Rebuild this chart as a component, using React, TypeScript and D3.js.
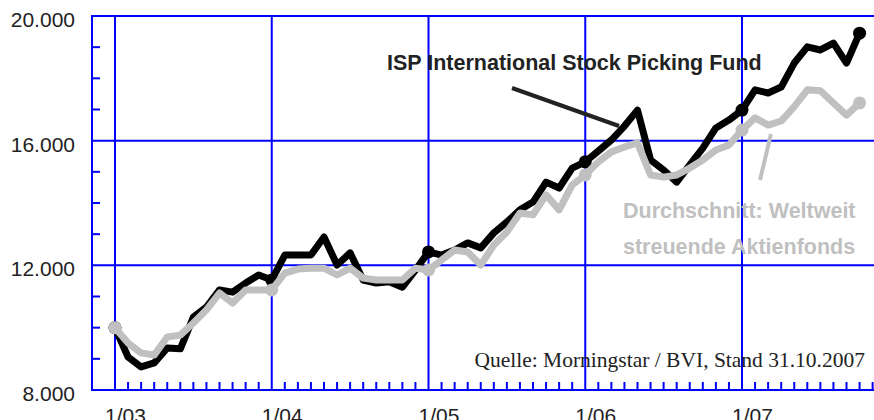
import React, { useEffect, useRef } from 'react';
import * as d3 from 'd3';

// monthly values, Jan 2003 .. Oct 2007 (index 0 = 1/03)
const fundValues: number[] = [
    10000, 9060, 8740, 8870, 9350, 9320, 10340, 10660, 11210, 11140, 11430, 11690,
    11530, 12330, 12330, 12330, 12910, 12010, 12400, 11530, 11430, 11470, 11300, 11850,
    12430, 12330, 12490, 12720, 12560, 13040, 13390, 13780, 14030, 14670, 14480, 15120,
    15320, 15670, 16020, 16470, 16980, 15380, 15060, 14670, 15220, 15760, 16410, 16660,
    16980, 17630, 17530, 17720, 18490, 19010, 18910, 19130, 18490, 19450,
];
const avgValues: number[] = [
    10000, 9510, 9190, 9120, 9700, 9760, 10150, 10570, 11110, 10790, 11210, 11210,
    11210, 11750, 11880, 11910, 11910, 11690, 11910, 11590, 11530, 11530, 11530, 11910,
    11850, 12170, 12490, 12430, 12010, 12650, 13070, 13680, 13620, 14260, 13780, 14580,
    14900, 15320, 15640, 15800, 15930, 14900, 14830, 14900, 15120, 15380, 15700, 15860,
    16340, 16730, 16500, 16630, 17090, 17630, 17600, 17210, 16820, 17210,
];
const yearLabels: string[] = ['1/03', '1/04', '1/05', '1/06', '1/07'];
const yMajor: number[] = [8000, 12000, 16000, 20000];
const fundLabel = 'ISP International Stock Picking Fund';
const avgLabel: string[] = ['Durchschnitt: Weltweit', 'streuende Aktienfonds'];
const sourceLabel = 'Quelle: Morningstar / BVI, Stand 31.10.2007';

const W = 874;
const H = 420;
const BLUE = '#0000ff';
const GREY = '#c0c0c0';
const INK = '#222222';
const FONT = 'Arial, "Liberation Sans", sans-serif';

const Chart: React.FC = () => {
    const svgRef = useRef<SVGSVGElement>(null);

    useEffect(() => {
        if (!svgRef.current) return;
        const svg = d3.select(svgRef.current);
        svg.selectAll('*').remove();

        const left = 92, top = 16, bottom = 390;
        const x = d3.scaleLinear().domain([0, 48]).range([115, 742]);
        const y = d3.scaleLinear().domain([8000, 20000]).range([bottom, top]);
        const lastMonth = Math.floor(x.invert(W));

        // minor y ticks
        const yMinor = d3.range(8000, 20001, 1000).filter(v => v % 4000 !== 0);
        svg.append('g').selectAll('line')
            .data(yMinor)
            .join('line')
            .attr('x1', left).attr('x2', left + 8)
            .attr('y1', d => y(d)).attr('y2', d => y(d))
            .style('stroke', BLUE).style('stroke-width', 2);

        // monthly ticks on the bottom axis
        const months = d3.range(1, lastMonth + 1).filter(m => m % 12 !== 0);
        svg.append('g').selectAll('line')
            .data(months)
            .join('line')
            .attr('x1', d => x(d)).attr('x2', d => x(d))
            .attr('y1', bottom).attr('y2', bottom - 8)
            .style('stroke', BLUE).style('stroke-width', 2);

        // grid
        svg.append('g').selectAll('line')
            .data(yMajor)
            .join('line')
            .attr('x1', left).attr('x2', W + 2)
            .attr('y1', d => y(d)).attr('y2', d => y(d))
            .style('stroke', BLUE).style('stroke-width', 2);
        svg.append('g').selectAll('line')
            .data(yearLabels)
            .join('line')
            .attr('x1', (d, i) => x(i * 12)).attr('x2', (d, i) => x(i * 12))
            .attr('y1', top).attr('y2', bottom)
            .style('stroke', BLUE).style('stroke-width', 2);
        svg.append('line')
            .attr('x1', left).attr('x2', left)
            .attr('y1', top - 1).attr('y2', bottom + 1)
            .style('stroke', BLUE).style('stroke-width', 2);

        // tick labels
        const fmt = (v: number) => d3.format(',')(v).replace(',', '.');
        svg.append('g').selectAll('text')
            .data(yMajor)
            .join('text')
            .attr('x', 75).attr('y', d => y(d) + 11)
            .attr('text-anchor', 'end')
            .style('font-family', FONT).style('font-size', '21px').style('fill', INK)
            .text(d => fmt(d));
        svg.append('g').selectAll('text')
            .data(yearLabels)
            .join('text')
            .attr('x', (d, i) => x(i * 12) - 10).attr('y', 423)
            .style('font-family', FONT).style('font-size', '21px').style('fill', INK)
            .text(d => d);

        // source
        svg.append('text')
            .attr('x', 865).attr('y', 367)
            .attr('text-anchor', 'end')
            .style('font-family', '"Liberation Serif", "Times New Roman", serif')
            .style('font-size', '21.5px').style('fill', INK)
            .text(sourceLabel);

        // series
        const line = d3.line<number>()
            .x((d, i) => x(i))
            .y(d => y(d));
        const marks = (vals: number[]) => vals.map((v, i) => [i, v] as [number, number])
            .filter(([i]) => i % 12 === 0 || i === vals.length - 1);

        const drawSeries = (vals: number[], color: string) => {
            svg.append('path')
                .datum(vals)
                .attr('d', line)
                .style('fill', 'none')
                .style('stroke', color)
                .style('stroke-width', 7)
                .style('stroke-linejoin', 'round')
                .style('stroke-linecap', 'round');
            svg.append('g').selectAll('circle')
                .data(marks(vals))
                .join('circle')
                .attr('cx', d => x(d[0])).attr('cy', d => y(d[1]))
                .attr('r', 6.5)
                .style('fill', color);
        };
        drawSeries(fundValues, '#000000');
        drawSeries(avgValues, GREY);

        // annotations
        svg.append('text')
            .attr('x', 387).attr('y', 70)
            .style('font-family', FONT).style('font-size', '21.5px')
            .style('font-weight', 'bold').style('fill', INK)
            .text(fundLabel);
        svg.append('line')
            .attr('x1', 512).attr('y1', 88).attr('x2', 619).attr('y2', 126)
            .style('stroke', INK).style('stroke-width', 4);

        svg.append('line')
            .attr('x1', 760).attr('y1', 180).attr('x2', 771).attr('y2', 134)
            .style('stroke', GREY).style('stroke-width', 4);
        svg.append('g').selectAll('text')
            .data(avgLabel)
            .join('text')
            .attr('x', 623).attr('y', (d, i) => 218 + i * 36)
            .style('font-family', FONT).style('font-size', '21.5px')
            .style('font-weight', 'bold').style('fill', GREY)
            .text(d => d);
    }, []);

    return (
        <svg ref={svgRef} width={W} height={H}
            style={{ position: 'absolute', left: 0, top: 0, background: '#fff' }} />
    );
};

const App: React.FC = () => <Chart />;

export default App;
